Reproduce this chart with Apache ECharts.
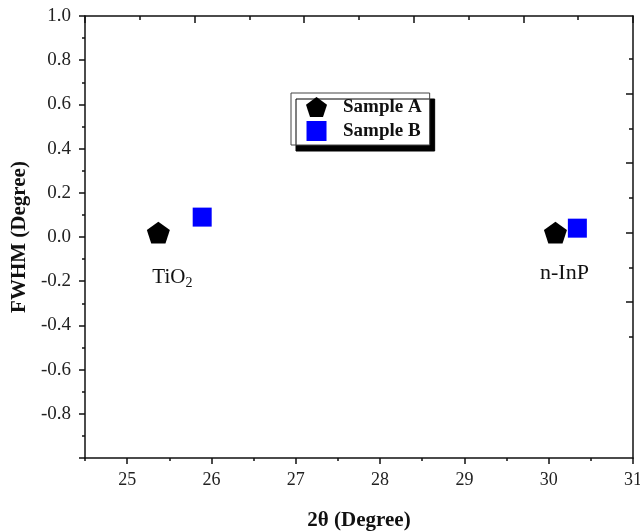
<!DOCTYPE html>
<html>
<head>
<meta charset="utf-8">
<script src="https://cdn.jsdelivr.net/npm/echarts@6/dist/echarts.min.js"></script>
<style>
  html, body { margin: 0; padding: 0; background: #fff; }
  #chart { width: 640px; height: 532px; }
</style>
</head>
<body>
<div id="chart"></div>
<script>
// peak positions (2θ) and FWHM
var sampleA_x = [25.37, 30.08];
var sampleA_y = [0.02, 0.02];
var sampleB_x = [25.89, 30.34];
var sampleB_y = [0.09, 0.04];
var peakNames = ['TiO2', 'n-InP'];

var xLabels = [25, 26, 27, 28, 29, 30, 31];
var xMinor = [24.5, 25.5, 26.5, 27.5, 28.5, 29.5, 30.5];
var rightMajor = [4, 6, 8, 10];
var rightMinor = [3, 5, 7, 9, 11];

var serif = '"Liberation Serif", "DejaVu Serif", serif';
var pentagon = 'path://M0,-1 L0.951,-0.309 L0.588,0.809 L-0.588,0.809 L-0.951,-0.309 Z';
var square = 'path://M0,0 L1,0 L1,1 L0,1 Z';
var ink = '#111';
var frame = { color: ink, width: 1.5 };

function pts(xs, ys) {
  return xs.map(function (x, i) { return [x, ys[i]]; });
}

var dataA = pts(sampleA_x, sampleA_y).map(function (p, i) {
  return {
    value: p,
    label: {
      show: true,
      position: 'bottom',
      distance: 19,
      offset: i === 0 ? [14, 2] : [9, 0],
      formatter: i === 0 ? '{a|TiO}{s|2}' : '{a|' + peakNames[i] + '}',
      rich: {
        a: { fontFamily: serif, fontSize: i === 0 ? 21 : 22, color: ink },
        s: { fontFamily: serif, fontSize: 14, color: ink, padding: [12, 0, 0, 0] }
      }
    }
  };
});

var chart = echarts.init(document.getElementById('chart'));

chart.setOption({
  animation: false,
  backgroundColor: '#fff',
  grid: { left: 85, right: 7, top: 16, bottom: 74, outerBoundsMode: 'none', containLabel: false },
  legend: {
    orient: 'vertical',
    left: 291,
    top: 93,
    itemWidth: 43,
    itemHeight: 20,
    itemGap: 4,
    padding: [4, 8, 4, 15],
    backgroundColor: '#fff',
    borderColor: '#444',
    borderWidth: 1,
    borderRadius: 0,
    shadowColor: '#000',
    shadowBlur: 0,
    shadowOffsetX: 5,
    shadowOffsetY: 6,
    textStyle: { fontFamily: serif, fontSize: 19, fontWeight: 'bold', color: ink },
    data: ['Sample A', 'Sample B']
  },
  xAxis: [{
    type: 'value',
    min: 24.5,
    max: 31,
    position: 'bottom',
    name: '2θ (Degree)',
    nameLocation: 'middle',
    nameGap: 52,
    nameTextStyle: { fontFamily: serif, fontSize: 21, fontWeight: 'bold', color: ink },
    axisLine: { onZero: false, lineStyle: frame },
    axisTick: { inside: false, length: 6, lineStyle: frame, customValues: xLabels },
    axisLabel: { fontFamily: serif, fontSize: 18, color: '#222', margin: 13, customValues: xLabels },
    splitLine: { show: false }
  }, {
    type: 'value',
    min: 24.5,
    max: 31,
    position: 'bottom',
    axisLine: { show: false, onZero: false },
    axisTick: { inside: false, length: 3, lineStyle: frame, customValues: xMinor },
    axisLabel: { show: false },
    splitLine: { show: false }
  }, {
    // top frame, own tick spacing as in the source figure
    type: 'value',
    min: 0,
    max: 10,
    interval: 2,
    position: 'top',
    axisLine: { show: true, onZero: false, lineStyle: frame },
    axisTick: { inside: true, length: 7, lineStyle: frame },
    minorTick: { show: true, splitNumber: 2, length: 4, lineStyle: frame },
    axisLabel: { show: false },
    splitLine: { show: false }
  }],
  yAxis: [{
    type: 'value',
    min: -1,
    max: 1,
    interval: 0.2,
    position: 'left',
    name: 'FWHM (Degree)',
    nameLocation: 'middle',
    nameGap: 51,
    nameTextStyle: { fontFamily: serif, fontSize: 21, fontWeight: 'bold', color: ink },
    axisLine: { show: true, onZero: false, lineStyle: frame },
    axisTick: { inside: false, length: 6, lineStyle: frame },
    minorTick: { show: true, splitNumber: 2, length: 3, lineStyle: frame },
    axisLabel: {
      fontFamily: serif, fontSize: 19, color: '#222', margin: 14, showMinLabel: false,
      formatter: function (v) { return v.toFixed(1); }
    },
    splitLine: { show: false }
  }, {
    // right frame, own tick spacing as in the source figure
    type: 'value',
    min: -0.48,
    max: 12.23,
    position: 'right',
    axisLine: { show: true, onZero: false, lineStyle: frame },
    axisTick: { inside: true, length: 7, lineStyle: frame, customValues: rightMajor },
    axisLabel: { show: false },
    splitLine: { show: false }
  }, {
    type: 'value',
    min: -0.48,
    max: 12.23,
    position: 'right',
    axisLine: { show: false, onZero: false },
    axisTick: { inside: true, length: 4, lineStyle: frame, customValues: rightMinor },
    axisLabel: { show: false },
    splitLine: { show: false }
  }],
  series: [{
    name: 'Sample A',
    type: 'scatter',
    symbol: pentagon,
    symbolSize: 23,
    symbolKeepAspect: true,
    itemStyle: { color: '#000', opacity: 1 },
    data: dataA,
    z: 3
  }, {
    name: 'Sample B',
    type: 'scatter',
    symbol: square,
    symbolSize: 19,
    symbolKeepAspect: true,
    itemStyle: { color: '#0000ff', opacity: 1 },
    data: pts(sampleB_x, sampleB_y),
    z: 2
  }]
});
</script>
</body>
</html>
